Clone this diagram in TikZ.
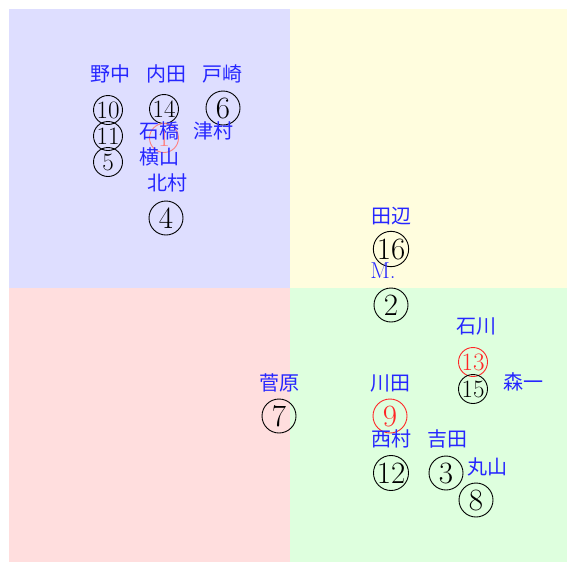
\documentclass[tikz,border=0pt]{standalone}
\usepackage{fontspec}
\newfontfamily\cjk{Noto Sans CJK JP}
\usepackage{tikz}
\usetikzlibrary{positioning}

\begin{document}
\begin{tikzpicture}[
        x=1pt, y=-1pt,
        quad/.style={draw=none, fill=#1!13},
        lbl/.style={text=blue!85, inner sep=0pt, font=\cjk\fontsize{20}{20}\selectfont},
        big/.style={circle, draw=black, line width=0.9pt, inner sep=0pt, minimum size=34pt,
                    font=\fontsize{31}{31}\selectfont},
        small/.style={circle, draw=black, line width=0.9pt, inner sep=0pt, minimum size=29pt,
                      font=\fontsize{25}{25}\selectfont},
        hot/.style={draw=red!85, text=red!85}
      ]
        \useasboundingbox (0,0) rectangle (567,563);

        % Quadrants
        \fill[quad=blue]   (9,9)   rectangle (290,288);
        \fill[quad=yellow] (290,9) rectangle (567,288);
        \fill[quad=red]    (9,288) rectangle (290,562);
        \fill[quad=green]  (290,288) rectangle (567,562);

        % Circled numbers
        \node[small] (n10) at (108,110) {10};
        \node[small] (n14) at (164,109) {14};
        \node[big]   (n6)  at (223,108) {6};
        \node[small] (n11) at (108,136) {11};
        \node[small] (n5)  at (108,162) {5};
        \node[small, draw=red!50, text=red!50] (n1) at (164,138) {1};
        \node[big]   (n4)  at (166,218) {4};
        \node[big]   (n16) at (391,249) {16};
        \node[big]   (n2)  at (391,305) {2};
        \node[small, hot] (n13) at (473,362) {13};
        \node[small] (n15) at (473,389) {15};
        \node[big]   (n7)  at (279,416) {7};
        \node[big, hot] (n9) at (390,416) {9};
        \node[big]   (n12) at (391,473) {12};
        \node[big]   (n3)  at (446,473) {3};
        \node[big]   (n8)  at (476,500) {8};

        % Names
        \node[lbl] (nonaka)    at (110,74)  {野中};
        \node[lbl] (uchida)    at (166,74)  {内田};
        \node[lbl] (tozaki)    at (222,74)  {戸崎};
        \node[lbl] (ishibashi) at (159,131) {石橋};
        \node[lbl] (tsumura)   at (213,131) {津村};
        \node[lbl] (yokoyama)  at (159,157) {横山};
        \node[lbl] (kitamura)  at (167,183) {北村};
        \node[lbl] (tanabe)    at (391,216) {田辺};
        \node[lbl, font=\fontsize{23}{23}\selectfont] (mdot) at (383,271) {M.};
        \node[lbl] (ishikawa)  at (476,326) {石川};
        \node[lbl] (morikazu)  at (523,382) {森一};
        \node[lbl] (sugawara)  at (279,383) {菅原};
        \node[lbl] (kawada)    at (390,383) {川田};
        \node[lbl] (nishimura) at (391,439) {西村};
        \node[lbl] (yoshida)   at (447,439) {吉田};
        \node[lbl] (maruyama)  at (487,467) {丸山};

      \end{tikzpicture}
\end{document}
